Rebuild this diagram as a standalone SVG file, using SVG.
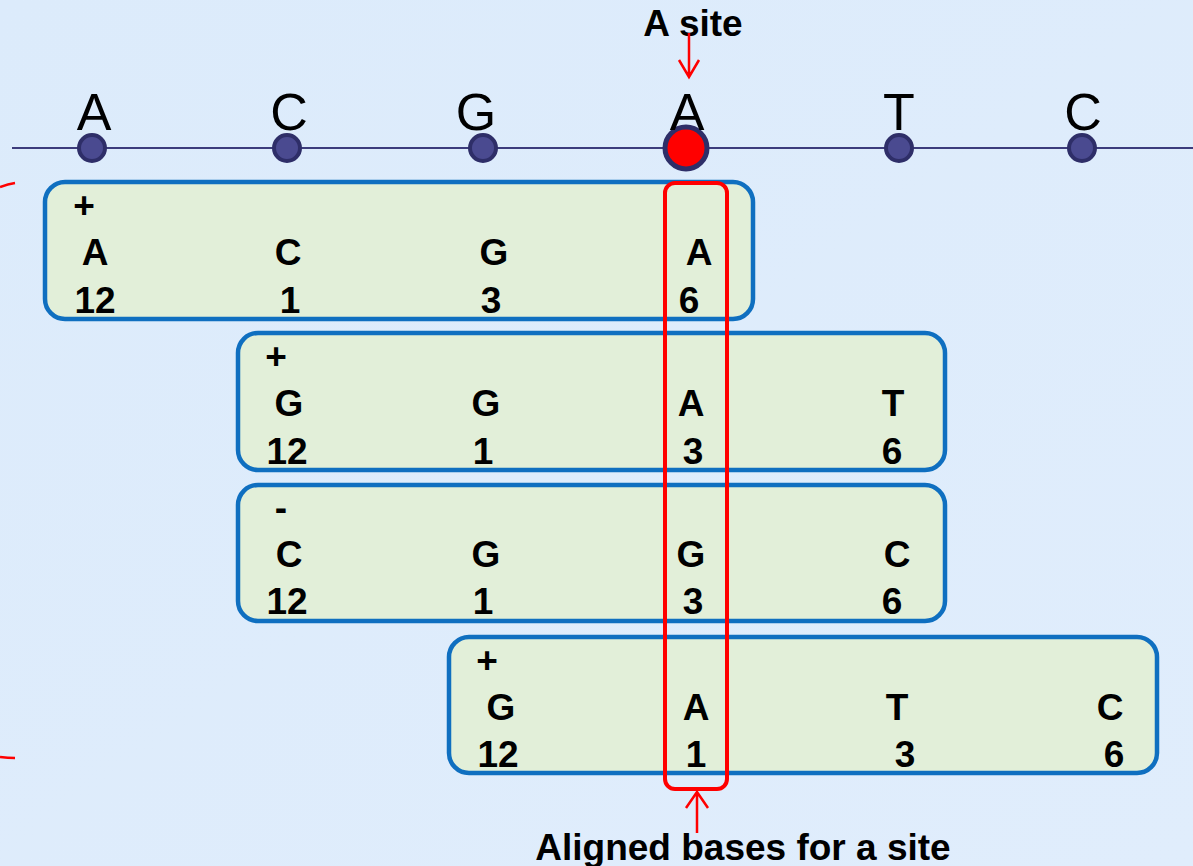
<svg xmlns="http://www.w3.org/2000/svg" width="1193" height="866" viewBox="0 0 1193 866">
<defs>
<linearGradient id="bg" x1="0" y1="0" x2="1" y2="1">
<stop offset="0" stop-color="#dcebfb"/>
<stop offset="1" stop-color="#e0edfc"/>
</linearGradient>
</defs>
<style>
.box{fill:#e2efd9;stroke:#0f6fc0;stroke-width:4.5}
.t{font-family:"Liberation Sans",Arial,sans-serif;font-weight:bold;font-size:37px;fill:#000;text-anchor:middle}
.top{font-family:"Liberation Sans",Arial,sans-serif;font-size:52px;fill:#000;text-anchor:middle}
.dot{fill:#4a4a90;stroke:#2e2e68;stroke-width:4}
.red{fill:none;stroke:#ff0000;stroke-width:2.5}
</style>
<rect width="1193" height="866" fill="url(#bg)"/>
<path class="red" d="M0,187 Q8,184 15,183"/>
<path class="red" d="M0,757 Q8,758 15,758"/>
<g id="axis">
<line x1="12" y1="148" x2="1193" y2="148" stroke="#3c3c7c" stroke-width="2"/>
<circle class="dot" cx="92" cy="148" r="13"/>
<circle class="dot" cx="287" cy="148" r="13"/>
<circle class="dot" cx="483" cy="148" r="13"/>
<circle class="dot" cx="899" cy="148" r="13"/>
<circle class="dot" cx="1082" cy="148" r="13"/>
<circle cx="686" cy="148" r="21" fill="#ff0000" stroke="#2e2e68" stroke-width="5"/>
<text class="top" x="94" y="130">A</text>
<text class="top" x="289" y="130">C</text>
<text class="top" x="476" y="130">G</text>
<text class="top" x="687" y="130">A</text>
<text class="top" x="899" y="130">T</text>
<text class="top" x="1083" y="130">C</text>
</g>
<g id="asite">
<text class="t" x="693" y="36">A site</text>
</g>
<g id="box1">
<rect class="box" x="45" y="182" width="708" height="137" rx="20"/>
<text class="t" x="84" y="218">+</text>
<text class="t" x="95" y="265">A</text><text class="t" x="288" y="265">C</text><text class="t" x="494" y="265">G</text><text class="t" x="699" y="265">A</text>
<text class="t" x="95" y="313">12</text><text class="t" x="290" y="313">1</text><text class="t" x="491" y="313">3</text><text class="t" x="689" y="313">6</text>
</g>
<g id="box2">
<rect class="box" x="238" y="333" width="707" height="137" rx="20"/>
<text class="t" x="276" y="369">+</text>
<text class="t" x="289" y="416">G</text><text class="t" x="486" y="416">G</text><text class="t" x="691" y="416">A</text><text class="t" x="893" y="416">T</text>
<text class="t" x="287" y="464">12</text><text class="t" x="483" y="464">1</text><text class="t" x="693" y="464">3</text><text class="t" x="892" y="464">6</text>
</g>
<g id="box3">
<rect class="box" x="238" y="485" width="707" height="136" rx="20"/>
<text class="t" x="281" y="520">-</text>
<text class="t" x="289" y="567">C</text><text class="t" x="486" y="567">G</text><text class="t" x="691" y="567">G</text><text class="t" x="897" y="567">C</text>
<text class="t" x="287" y="614">12</text><text class="t" x="483" y="614">1</text><text class="t" x="693" y="614">3</text><text class="t" x="892" y="614">6</text>
</g>
<g id="box4">
<rect class="box" x="449" y="637" width="708" height="136" rx="20"/>
<text class="t" x="487" y="673">+</text>
<text class="t" x="501" y="720">G</text><text class="t" x="696" y="720">A</text><text class="t" x="897" y="720">T</text><text class="t" x="1110" y="720">C</text>
<text class="t" x="498" y="767">12</text><text class="t" x="696" y="767">1</text><text class="t" x="905" y="767">3</text><text class="t" x="1114" y="767">6</text>
</g>
<g id="highlight">
<rect x="665" y="183" width="62" height="606" rx="10" fill="none" stroke="#ff0000" stroke-width="4"/>
</g>
<g id="connectors">
<path class="red" d="M689,33 V76 M679,60 L689,77 L699,60"/>
<path class="red" d="M697,833 V793 M686,808 L697,792 L708,808"/>
</g>
<g id="caption">
<text class="t" x="743" y="860">Aligned bases for a site</text>
</g>
</svg>
